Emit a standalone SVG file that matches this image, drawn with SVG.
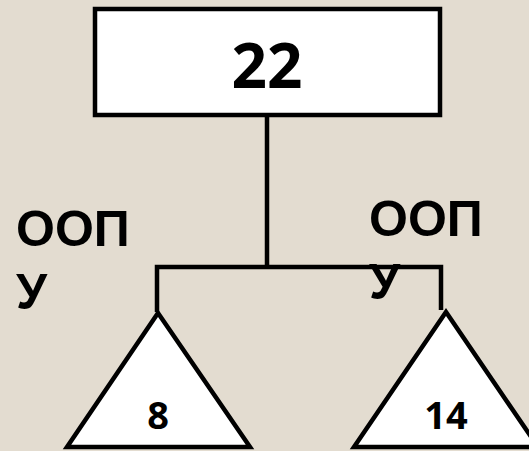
<svg xmlns="http://www.w3.org/2000/svg" width="529" height="451" viewBox="0 0 529 451">
<style>
.shape{fill:#ffffff;stroke:#000000;stroke-width:4.5;stroke-linejoin:miter}
.conn{fill:none;stroke:#000000;stroke-width:4.5}
.num{font-family:"Open Sans","Liberation Sans",sans-serif;font-weight:bold;fill:#000000;text-anchor:middle}
.lbl{font-family:"Liberation Sans",Arial,sans-serif;font-weight:bold;font-size:50px;fill:#000000}
</style>
<rect width="529" height="451" fill="#e3dcd0"/>
<g id="connectors">
<line class="conn" x1="267" y1="116" x2="267" y2="267"/>
<polyline class="conn" points="157,312 157,267 441,267 441,310"/>
</g>
<g id="root">
<rect class="shape" x="95" y="9" width="345" height="106"/>
<text class="num" x="267" y="88" font-size="62">22</text>
</g>
<g id="left">
<polygon class="shape" points="158,313 250,447 67,447"/>
<text class="num" x="158" y="429" font-size="38">8</text>
</g>
<g id="right">
<polygon class="shape" points="446,312 538,447 354,447"/>
<text class="num" x="446" y="429" font-size="38">14</text>
</g>
<g id="label-left">
<text class="lbl" x="16" y="246">ООП</text>
<text class="lbl" x="16" y="309">У</text>
</g>
<g id="label-right">
<text class="lbl" x="369" y="236">ООП</text>
<text class="lbl" x="369" y="299">У</text>
</g>
</svg>
